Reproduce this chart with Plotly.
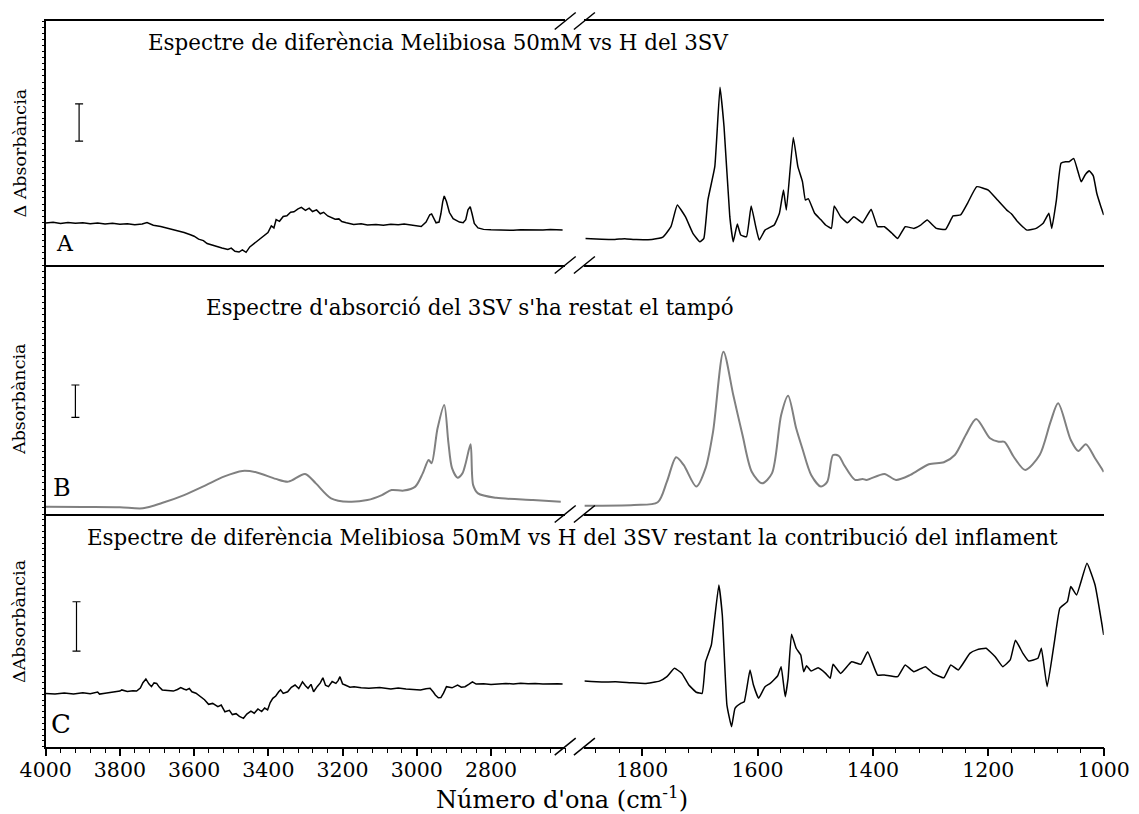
import plotly.graph_objects as go

# ---------------- data (wavenumber cm-1, arbitrary absorbance units) ----------------
# Panel A: difference spectrum, high wavenumber region
a_left_wn = [4000, 3980, 3960, 3940, 3920, 3900, 3880, 3860, 3840, 3820, 3800, 3780, 3760, 3740,
             3727, 3710, 3690, 3679, 3660, 3645, 3627, 3610, 3600, 3588, 3575, 3565, 3549, 3535,
             3525, 3509, 3500, 3490, 3479, 3470, 3460, 3450, 3440, 3431, 3420, 3410, 3401, 3392,
             3385, 3379, 3370, 3360, 3350, 3340, 3331, 3320, 3311, 3300, 3290, 3281, 3270, 3260,
             3251, 3240, 3231, 3220, 3210, 3202, 3190, 3170, 3150, 3133, 3110, 3090, 3070, 3050,
             3034, 3010, 2995, 2988, 2975, 2965, 2960, 2955, 2948, 2940, 2935, 2930, 2926, 2920,
             2912, 2902, 2894, 2885, 2875, 2868, 2862, 2856, 2851, 2845, 2835, 2820, 2800, 2780,
             2760, 2740, 2720, 2700, 2680, 2660, 2640, 2620, 2607]
a_left_ab = [17.2, 17.5, 17.0, 17.4, 17.1, 17.3, 16.9, 17.2, 16.8, 17.1, 16.7, 16.9, 16.5, 16.8,
             17.4, 16.3, 15.8, 15.4, 14.8, 14.2, 13.3, 12.4, 11.8, 10.6, 10.0, 8.8, 8.0, 7.4,
             7.0, 6.4, 6.9, 5.6, 5.3, 6.2, 5.2, 7.4, 8.6, 9.8, 10.9, 12.2, 13.3, 16.0,
             15.2, 18.6, 17.9, 19.9, 20.2, 21.6, 21.8, 23.0, 23.6, 22.4, 23.3, 21.9, 22.6, 21.0,
             21.6, 20.1, 19.6, 18.8, 18.9, 17.8, 17.3, 16.6, 16.9, 16.4, 16.6, 16.3, 16.7, 16.5,
             16.8, 16.4, 15.9, 15.8, 17.6, 20.6, 20.9, 19.2, 17.3, 17.6, 21.0, 26.0, 28.3, 26.0,
             21.5, 19.0, 18.4, 17.6, 17.3, 18.6, 22.6, 23.9, 21.0, 17.0, 15.2, 14.6, 14.4, 14.3,
             14.5, 14.2, 14.4, 14.3, 14.4, 14.3, 14.5, 14.3, 14.3]

# Panel A: difference spectrum, low wavenumber region
a_right_wn = [1898, 1870, 1847, 1830, 1810, 1783, 1764, 1750, 1739, 1725, 1712, 1700, 1693, 1686,
              1674, 1665, 1658, 1648, 1642, 1635, 1629, 1619, 1611, 1603, 1597, 1587, 1571, 1562,
              1555, 1550, 1538, 1530, 1522, 1517, 1512, 1501, 1490, 1482, 1472, 1467, 1456, 1444,
              1433, 1418, 1403, 1392, 1380, 1367, 1357, 1344, 1329, 1318, 1306, 1290, 1274, 1261,
              1248, 1236, 1220, 1200, 1184, 1168, 1160, 1149, 1140, 1133, 1117, 1105, 1095, 1090,
              1082, 1074, 1066, 1060, 1052, 1045, 1039, 1032, 1025, 1018, 1012, 1005, 1000]
a_right_ab = [10.9, 10.6, 10.5, 10.8, 10.4, 10.5, 11.4, 15.7, 24.6, 19.8, 13.0, 9.5, 10.9, 26.6,
              40.3, 72.8, 56.7, 19.8, 9.5, 16.8, 12.3, 11.6, 24.2, 15.7, 10.2, 14.3, 16.4, 21.2,
              30.7, 22.5, 52.3, 40.3, 34.1, 26.6, 27.2, 21.2, 18.5, 16.4, 15.0, 24.2, 19.8, 17.3,
              19.8, 17.3, 22.8, 15.7, 15.7, 13.0, 10.9, 15.7, 15.0, 16.2, 18.4, 15.0, 14.6, 20.1,
              20.5, 25.3, 32.1, 30.7, 26.6, 22.5, 21.0, 17.7, 15.6, 14.3, 15.0, 17.1, 21.2, 15.0,
              26.6, 41.7, 42.3, 42.3, 43.7, 38.6, 34.1, 37.0, 38.6, 36.5, 29.4, 24.0, 20.5]

# Panel B: absorption spectrum (buffer subtracted)
b_left_wn = [4000, 3900, 3800, 3738, 3687, 3627, 3568, 3520, 3470, 3431, 3380, 3346, 3301, 3272,
             3231, 3183, 3133, 3094, 3068, 3035, 3004, 2984, 2968, 2960, 2944, 2926, 2915, 2905,
             2890, 2877, 2868, 2855, 2848, 2835, 2786, 2687, 2612]
b_left_ab = [2.9, 2.8, 2.7, 2.3, 4.4, 7.6, 11.6, 15.0, 17.3, 16.7, 14.1, 13.0, 16.1, 12.3,
             6.3, 4.9, 5.6, 7.6, 9.6, 9.4, 11.0, 16.3, 21.7, 20.4, 34.4, 43.8, 29.0, 18.4,
             14.6, 16.3, 20.5, 28.0, 11.6, 8.3, 6.5, 5.6, 4.9]

b_right_wn = [1900, 1814, 1773, 1757, 1741, 1728, 1706, 1690, 1677, 1659, 1642, 1626, 1610, 1592,
              1575, 1559, 1547, 1533, 1522, 1507, 1490, 1479, 1469, 1459, 1450, 1431, 1418, 1411,
              1380, 1360, 1335, 1303, 1277, 1258, 1239, 1221, 1197, 1182, 1172, 1156, 1136, 1111,
              1092, 1079, 1057, 1044, 1031, 1015, 1002, 1000]
b_right_ab = [3.3, 3.6, 4.7, 13.0, 22.8, 19.7, 11.0, 18.4, 33.1, 65.2, 47.8, 31.7, 17.0, 12.3,
              16.3, 39.8, 47.5, 34.4, 26.1, 15.7, 11.0, 13.0, 23.7, 23.3, 19.7, 13.7, 14.1, 13.7,
              16.1, 13.7, 15.7, 20.0, 20.8, 23.7, 31.7, 38.2, 30.4, 29.0, 29.0, 23.0, 17.7, 23.7,
              37.1, 44.5, 29.7, 25.3, 28.0, 22.4, 17.7, 16.9]

# Panel C: difference spectrum minus swelling contribution
c_left_wn = [4000, 3975, 3950, 3925, 3900, 3880, 3860, 3855, 3840, 3820, 3800, 3795, 3780, 3765,
             3755, 3745, 3738, 3730, 3722, 3715, 3708, 3701, 3694, 3686, 3670, 3656, 3645, 3636,
             3628, 3621, 3613, 3606, 3595, 3582, 3572, 3561, 3550, 3536, 3527, 3517, 3505, 3497,
             3487, 3478, 3467, 3458, 3447, 3438, 3428, 3418, 3410, 3402, 3395, 3388, 3380, 3372,
             3367, 3360, 3348, 3338, 3328, 3318, 3308, 3300, 3293, 3285, 3278, 3268, 3260, 3253,
             3246, 3238, 3228, 3218, 3212, 3207, 3200, 3193, 3180, 3169, 3150, 3129, 3100, 3070,
             3050, 3029, 3010, 2990, 2975, 2964, 2955, 2950, 2942, 2935, 2928, 2920, 2905, 2890,
             2880, 2870, 2860, 2850, 2840, 2820, 2800, 2781, 2760, 2740, 2720, 2700, 2681, 2660,
             2640, 2620, 2607]
c_left_ab = [22.9, 22.6, 23.1, 22.7, 23.2, 22.8, 23.5, 22.6, 23.0, 23.4, 23.9, 24.4, 23.7, 24.0,
             23.9, 25.2, 27.5, 29.1, 27.0, 25.8, 27.4, 27.2, 25.6, 24.4, 24.1, 23.9, 24.6, 25.4,
             24.8, 24.4, 25.0, 23.6, 23.0, 21.5, 20.2, 18.2, 18.6, 17.2, 17.9, 15.0, 15.6, 13.8,
             14.2, 13.0, 12.2, 14.0, 15.3, 14.4, 16.2, 15.1, 16.6, 15.8, 19.0, 20.8, 21.8, 23.6,
             24.4, 22.9, 23.6, 25.5, 26.5, 25.0, 27.9, 26.2, 25.1, 26.8, 23.6, 25.9, 27.4, 29.6,
             26.4, 25.8, 28.0, 27.2, 28.4, 30.1, 27.0, 26.5, 25.6, 25.8, 25.3, 25.1, 25.4, 24.8,
             25.2, 24.8, 24.5, 24.4, 24.9, 25.1, 23.4, 22.2, 21.0, 21.1, 23.0, 25.8, 25.3, 26.5,
             25.6, 25.8, 26.8, 27.9, 26.9, 27.0, 26.7, 26.9, 27.2, 26.9, 27.3, 27.0, 27.2, 26.9,
             27.1, 27.0, 26.9]

c_right_wn = [1900, 1870, 1846, 1820, 1795, 1770, 1757, 1744, 1731, 1719, 1706, 1696, 1690, 1680,
              1667, 1661, 1653, 1645, 1639, 1629, 1623, 1613, 1607, 1598, 1587, 1578, 1565, 1559,
              1552, 1547, 1541, 1533, 1525, 1520, 1515, 1507, 1495, 1482, 1474, 1469, 1456, 1437,
              1421, 1409, 1392, 1380, 1357, 1344, 1329, 1309, 1296, 1277, 1265, 1252, 1232, 1220,
              1204, 1188, 1175, 1162, 1153, 1140, 1130, 1114, 1108, 1098, 1085, 1076, 1063, 1057,
              1047, 1029, 1015, 1000]
c_right_ab = [28.2, 27.8, 27.9, 27.5, 27.2, 28.2, 30.1, 33.7, 31.5, 26.5, 23.4, 22.9, 36.5, 43.7,
              69.5, 56.6, 17.9, 8.6, 16.5, 18.6, 19.3, 33.0, 26.5, 20.8, 25.8, 27.2, 30.5, 34.4,
              21.5, 29.4, 48.3, 42.3, 39.4, 32.2, 34.8, 32.5, 33.9, 31.5, 29.4, 35.4, 31.5, 36.5,
              35.4, 40.8, 30.8, 30.8, 30.1, 35.1, 32.2, 34.4, 31.5, 29.6, 35.1, 33.0, 40.1, 41.6,
              42.3, 38.7, 34.4, 37.3, 45.8, 40.1, 36.8, 38.0, 42.3, 25.8, 45.8, 59.5, 62.3, 68.8,
              65.2, 78.8, 69.5, 48.0]

# Scale bars (position wavenumber, bottom, top) for each panel
bar_wn = [3910, 3920, 3917]
bar_lo = [50.8, 38.8, 41.1]
bar_hi = [66.0, 51.8, 62.3]

titles = ["Espectre de diferència Melibiosa 50mM vs H del 3SV",
          "Espectre d'absorció del 3SV s'ha restat el tampó",
          "Espectre de diferència Melibiosa 50mM vs H del 3SV restant la contribució del inflament"]
ylabels = ["Δ Absorbància", "Absorbància", "ΔAbsorbància"]
letters = ["A", "B", "C"]
left_ticks = [4000, 3800, 3600, 3400, 3200, 3000, 2800]
right_ticks = [1800, 1600, 1400, 1200, 1000]

# ---------------- layout geometry ----------------
W, H = 1139, 814
xl_dom = [45.7 / W, 565.2 / W]
xr_dom = [584.4 / W, 1103.7 / W]
panel_px = [(21, 265), (265, 514), (514, 746.7)]
y_doms = [[1 - b / H, 1 - t / H] for (t, b) in panel_px]

FONT = "DejaVu Serif"
fig = go.Figure()

# (left x, left y, right x, right y, colour, width, smoothing left, smoothing right)
series = [
    (a_left_wn, a_left_ab, a_right_wn, a_right_ab, "black", 1.5, 0.0, 0.35),
    (b_left_wn, b_left_ab, b_right_wn, b_right_ab, "#808080", 2.0, 0.8, 0.8),
    (c_left_wn, c_left_ab, c_right_wn, c_right_ab, "black", 1.5, 0.0, 0.35),
]


def line_style(col, wd, sm):
    d = dict(color=col, width=wd)
    if sm > 0:
        d.update(shape="spline", smoothing=sm)
    return d


layout = {}
for i in range(3):
    xl = 2 * i + 1
    xr = 2 * i + 2
    yl = 2 * i + 1
    yr = 2 * i + 2
    xl_name = "x" if xl == 1 else f"x{xl}"
    xr_name = f"x{xr}"
    yl_name = "y" if yl == 1 else f"y{yl}"
    lw, la, rw, ra, col, wd, sml, smr = series[i]
    fig.add_trace(go.Scatter(x=lw, y=la, mode="lines", line=line_style(col, wd, sml),
                             xaxis=xl_name, yaxis=yl_name, showlegend=False, hoverinfo="skip"))
    fig.add_trace(go.Scatter(x=rw, y=ra, mode="lines", line=line_style(col, wd, smr),
                             xaxis=xr_name, yaxis=yl_name, showlegend=False, hoverinfo="skip"))
    # scale bar
    mid = (bar_lo[i] + bar_hi[i]) / 2
    half = (bar_hi[i] - bar_lo[i]) / 2
    fig.add_trace(go.Scatter(x=[bar_wn[i]], y=[mid], mode="markers",
                             marker=dict(size=1, color="rgba(0,0,0,0)"),
                             error_y=dict(type="data", array=[half], color="black", thickness=1.2, width=4),
                             xaxis=xl_name, yaxis=yl_name, showlegend=False, hoverinfo="skip"))

    bottom = (i == 2)
    common_x = dict(showline=True, linecolor="black", linewidth=1.5, mirror=(i == 0),
                    showgrid=False, zeroline=False, automargin=False,
                    tickfont=dict(family=FONT, size=20.5, color="black"))
    if bottom:
        tick_kw = dict(ticks="outside", ticklen=8, tickwidth=1.5, tickcolor="black",
                       showticklabels=True,
                       minor=dict(tickmode="linear", tick0=0, dtick=40, ticks="outside",
                                  ticklen=5, tickwidth=1.2, tickcolor="black"))
    else:
        tick_kw = dict(ticks="", showticklabels=False)
    layout["xaxis" if xl == 1 else f"xaxis{xl}"] = dict(
        domain=xl_dom, range=[4000, 2600], anchor=yl_name, tickmode="array",
        tickvals=left_ticks, **common_x, **tick_kw)
    layout[f"xaxis{xr}"] = dict(
        domain=xr_dom, range=[1900, 1000], anchor=yl_name, tickmode="array",
        tickvals=right_ticks, **common_x, **tick_kw)
    ycommon = dict(range=[0, 100], showgrid=False, zeroline=False, showticklabels=False,
                   showline=True, linecolor="black", linewidth=1.5, automargin=False,
                   ticks="outside", ticklen=2, tickwidth=1, tickcolor="black",
                   tickmode="linear", tick0=0, dtick=2.5)
    layout["yaxis" if yl == 1 else f"yaxis{yl}"] = dict(domain=y_doms[i], anchor=xl_name, **ycommon)
    layout[f"yaxis{yr}"] = dict(domain=y_doms[i], anchor=xr_name, overlaying=yl_name,
                                side="right", **ycommon)

fig.update_layout(**layout)
# pull the bottom tick labels slightly closer to the axis
try:
    fig.update_layout(xaxis5_ticklabelstandoff=-4, xaxis6_ticklabelstandoff=-4)
except Exception:
    pass

# axis break slashes at the ends of the left and right segments
shapes = []
for i in range(3):
    xl = 2 * i + 1
    xr = 2 * i + 2
    yl_name = "y" if xl == 1 else f"y{xl}"
    xl_ref = "x domain" if xl == 1 else f"x{xl} domain"
    xr_ref = f"x{xr} domain"
    yancs = (0, 1) if i == 0 else (0,)
    for yanc in yancs:
        for xref, xanc in ((xl_ref, 1), (xr_ref, 0)):
            shapes.append(dict(type="line", xref=xref, yref=f"{yl_name} domain",
                               xsizemode="pixel", ysizemode="pixel",
                               xanchor=xanc, yanchor=yanc,
                               x0=-10.5, x1=10.5, y0=-8.5, y1=8.5,
                               line=dict(color="black", width=1.5)))
fig.update_layout(shapes=shapes)

annotations = []
title_pos = [(146, 43), (204, 307), (85, 537)]
letter_pos = [(65, 244), (61.5, 488), (61, 724)]
letter_size = [22, 24, 26]
ylab_pos = [(19.5, 153), (19, 400), (19, 622)]
for i in range(3):
    tx, ty = title_pos[i]
    annotations.append(dict(text=titles[i], xref="paper", yref="paper", x=tx / W, y=1 - ty / H,
                            xanchor="left", yanchor="middle", showarrow=False,
                            font=dict(family=FONT, size=21.4, color="black")))
    lx, ly = letter_pos[i]
    annotations.append(dict(text=letters[i], xref="paper", yref="paper", x=lx / W, y=1 - ly / H,
                            xanchor="center", yanchor="middle", showarrow=False,
                            font=dict(family=FONT, size=letter_size[i], color="black")))
    gx, gy = ylab_pos[i]
    annotations.append(dict(text=ylabels[i], xref="paper", yref="paper", x=gx / W, y=1 - gy / H,
                            xanchor="center", yanchor="middle", showarrow=False, textangle=-90,
                            font=dict(family=FONT, size=17.5, color="black")))
annotations.append(dict(text="Número d'ona (cm<sup>-1</sup>)", xref="paper", yref="paper",
                        x=562 / W, y=1 - 798 / H, xanchor="center", yanchor="middle",
                        showarrow=False, font=dict(family=FONT, size=24, color="black")))
fig.update_layout(annotations=annotations)

fig.update_layout(width=W, height=H, autosize=False,
                  margin=dict(l=0, r=0, t=0, b=0, pad=0, autoexpand=False),
                  paper_bgcolor="white", plot_bgcolor="white")

fig.write_html("out.html", config={"displayModeBar": False},
               post_script="document.body.style.margin='0px';document.body.style.overflow='hidden';")
